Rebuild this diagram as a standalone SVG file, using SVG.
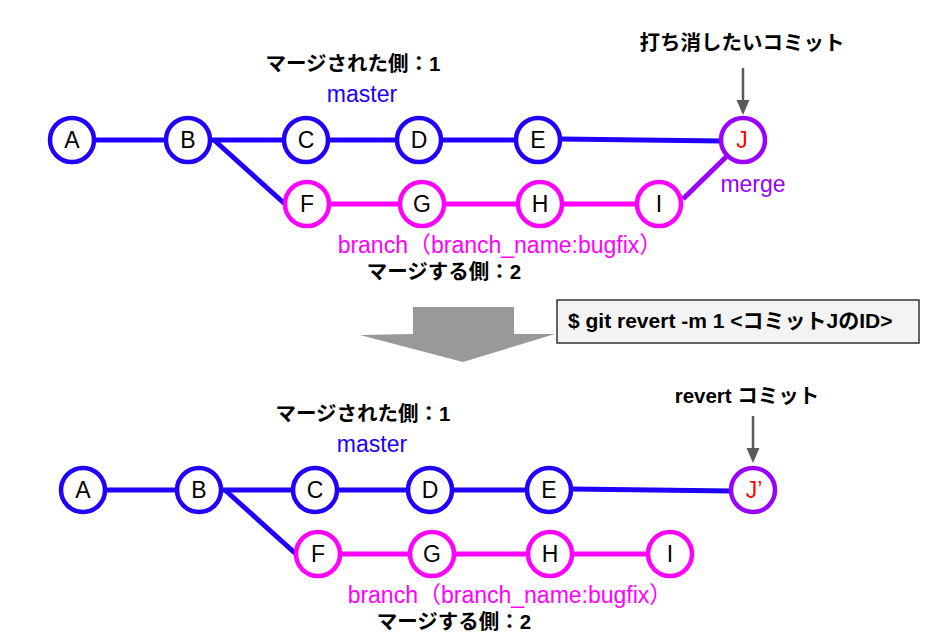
<svg xmlns="http://www.w3.org/2000/svg" width="934" height="642" viewBox="0 0 934 642">
<defs>
<style>
.t{font-family:"Liberation Sans","Noto Sans CJK JP",Arial,sans-serif}
.lbl{font-size:23px;text-anchor:middle;fill:#000}
.bold{font-size:20.5px;font-weight:bold;text-anchor:middle;fill:#000}
.blueT{font-size:23px;text-anchor:middle;fill:#2000ff}
.magT{font-size:23px;text-anchor:middle;fill:#ff00ff}
.purT{font-size:23px;text-anchor:middle;fill:#9900ff}
.redT{font-size:23px;text-anchor:middle;fill:#ff0000}
.nb{fill:#fff;stroke:#2000ff;stroke-width:4.5}
.nm{fill:#fff;stroke:#ff00ff;stroke-width:4.5}
.np{fill:#fff;stroke:#9900ff;stroke-width:4.5}
.eb{stroke:#2000ff;stroke-width:5;fill:none}
.em{stroke:#ff00ff;stroke-width:5;fill:none}
.ep{stroke:#9900ff;stroke-width:5;fill:none}
.ptr{stroke:#595959;stroke-width:2.5;fill:none}
</style>
</defs>
<rect width="934" height="642" fill="#fff"/>

<g id="connectors">
<!-- top -->
<line class="eb" x1="72" y1="140" x2="188" y2="140"/>
<line class="eb" x1="188" y1="140" x2="306" y2="140"/>
<line class="eb" x1="306" y1="140" x2="419" y2="140"/>
<line class="eb" x1="419" y1="140" x2="538" y2="140"/>
<line class="eb" x1="560" y1="139" x2="722" y2="141"/>
<line class="eb" x1="214" y1="140" x2="285" y2="204"/>
<line class="em" x1="307" y1="204" x2="422" y2="204"/>
<line class="em" x1="422" y1="204" x2="540" y2="204"/>
<line class="em" x1="540" y1="204" x2="659" y2="204"/>
<line class="ep" x1="683" y1="199" x2="728" y2="155"/>
<line class="ptr" x1="743" y1="68" x2="743" y2="101"/>
<polygon points="736.5,100 749.5,100 743,115" fill="#595959"/>
<!-- bottom -->
<line class="eb" x1="83" y1="490" x2="199" y2="490"/>
<line class="eb" x1="199" y1="490" x2="315" y2="490"/>
<line class="eb" x1="315" y1="490" x2="430" y2="490"/>
<line class="eb" x1="430" y1="490" x2="549" y2="490"/>
<line class="eb" x1="571" y1="489" x2="732" y2="491"/>
<line class="eb" x1="225" y1="490" x2="296" y2="554"/>
<line class="em" x1="318" y1="554" x2="432" y2="554"/>
<line class="em" x1="432" y1="554" x2="550" y2="554"/>
<line class="em" x1="550" y1="554" x2="670" y2="554"/>
<line class="ptr" x1="753" y1="416" x2="753" y2="449"/>
<polygon points="746.5,448 759.5,448 753,463" fill="#595959"/>
</g>

<!-- top labels -->
<g id="top-labels" class="t">
<text class="bold" x="353" y="71">マージされた側：1</text>
<text class="blueT" x="362" y="102">master</text>
<text class="magT" x="500" y="253">branch（branch_name:bugfix）</text>
<text class="bold" x="444" y="279">マージする側：2</text>
<text class="bold" x="742" y="50">打ち消したいコミット</text>
<text class="purT" x="753" y="192">merge</text>
</g>

<!-- top nodes -->
<g id="nA" class="t"><circle class="nb" cx="72" cy="140" r="22"/><text class="lbl" x="72" y="148">A</text></g>
<g id="nB" class="t"><circle class="nb" cx="188" cy="140" r="22"/><text class="lbl" x="188" y="148">B</text></g>
<g id="nC" class="t"><circle class="nb" cx="306" cy="140" r="22"/><text class="lbl" x="306" y="148">C</text></g>
<g id="nD" class="t"><circle class="nb" cx="419" cy="140" r="22"/><text class="lbl" x="419" y="148">D</text></g>
<g id="nE" class="t"><circle class="nb" cx="538" cy="140" r="22"/><text class="lbl" x="538" y="148">E</text></g>
<g id="nJ" class="t"><circle class="np" cx="743" cy="140" r="22"/><text class="redT" x="742" y="148">J</text></g>
<g id="nF" class="t"><circle class="nm" cx="307" cy="204" r="22"/><text class="lbl" x="307" y="212">F</text></g>
<g id="nG" class="t"><circle class="nm" cx="422" cy="204" r="22"/><text class="lbl" x="422" y="212">G</text></g>
<g id="nH" class="t"><circle class="nm" cx="540" cy="204" r="22"/><text class="lbl" x="540" y="212">H</text></g>
<g id="nI" class="t"><circle class="nm" cx="659" cy="204" r="22"/><text class="lbl" x="659" y="212">I</text></g>

<!-- middle arrow & command -->
<g id="bigArrow">
<polygon points="413,307 514,307 514,334 555,334 463,362 360,335 413,334" fill="#999999"/>
</g>
<g id="command" class="t">
<rect x="557" y="300" width="362" height="43" fill="#f3f3f3" stroke="#333333" stroke-width="1.5"/>
<text x="568" y="328" font-size="21" font-weight="bold" fill="#000">$ git revert -m 1 &lt;コミットJのID&gt;</text>
</g>

<!-- bottom labels -->
<g id="bottom-labels" class="t">
<text class="bold" x="363" y="421">マージされた側：1</text>
<text class="blueT" x="372" y="452">master</text>
<text class="magT" x="510" y="603">branch（branch_name:bugfix）</text>
<text class="bold" x="454" y="629">マージする側：2</text>
<text class="bold" x="747" y="403">revert コミット</text>
</g>

<!-- bottom nodes -->
<g id="mA" class="t"><circle class="nb" cx="83" cy="490" r="22"/><text class="lbl" x="83" y="498">A</text></g>
<g id="mB" class="t"><circle class="nb" cx="199" cy="490" r="22"/><text class="lbl" x="199" y="498">B</text></g>
<g id="mC" class="t"><circle class="nb" cx="315" cy="490" r="22"/><text class="lbl" x="315" y="498">C</text></g>
<g id="mD" class="t"><circle class="nb" cx="430" cy="490" r="22"/><text class="lbl" x="430" y="498">D</text></g>
<g id="mE" class="t"><circle class="nb" cx="549" cy="490" r="22"/><text class="lbl" x="549" y="498">E</text></g>
<g id="mJ2" class="t"><circle class="np" cx="753" cy="490" r="22"/><text class="redT" x="754" y="498">J’</text></g>
<g id="mF" class="t"><circle class="nm" cx="318" cy="554" r="22"/><text class="lbl" x="318" y="562">F</text></g>
<g id="mG" class="t"><circle class="nm" cx="432" cy="554" r="22"/><text class="lbl" x="432" y="562">G</text></g>
<g id="mH" class="t"><circle class="nm" cx="550" cy="554" r="22"/><text class="lbl" x="550" y="562">H</text></g>
<g id="mI" class="t"><circle class="nm" cx="670" cy="554" r="22"/><text class="lbl" x="670" y="562">I</text></g>
</svg>
